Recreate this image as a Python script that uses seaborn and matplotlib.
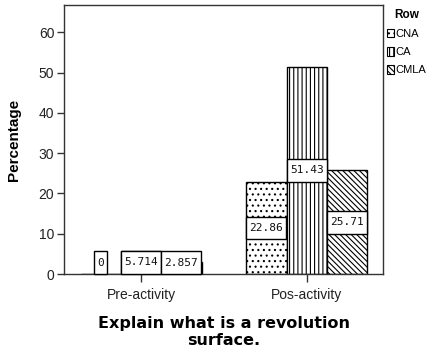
import numpy as np
import pandas as pd
import matplotlib
matplotlib.use("Agg")
import matplotlib.pyplot as plt
import matplotlib.patches as mpatches
from matplotlib.path import Path
import seaborn as sns

# Percentages of each answer type before and after the activity
phases = ["Pre-activity", "Pos-activity"]
rows = ["CNA", "CA", "CMLA"]
cna = [0, 22.86]
ca = [5.714, 51.43]
cmla = [2.857, 25.71]
y_ticks = [0, 10, 20, 30, 40, 50, 60]

df = pd.DataFrame({
    "phase": phases * 3,
    "row": np.repeat(rows, len(phases)),
    "pct": cna + ca + cmla,
})

sns.set_style("ticks")
plt.rcParams["font.family"] = ["Liberation Sans", "DejaVu Sans"]
plt.rcParams["text.color"] = "black"
plt.rcParams["hatch.linewidth"] = 0.8
plt.rcParams["hatch.color"] = "black"

hatches = ["...", "||||", "\\\\\\\\\\\\"]
frame_color = "#333333"

fig, ax = plt.subplots(figsize=(4.4, 3.58), dpi=100)
fig.subplots_adjust(left=64 / 440, right=383 / 440, top=1 - 5 / 358, bottom=1 - 274 / 358)

sns.barplot(data=df, x="phase", y="pct", hue="row", order=phases, hue_order=rows,
            palette={r: "white" for r in rows}, saturation=1, width=0.73, gap=0,
            edgecolor="black", linewidth=1, errorbar=None, legend=False, ax=ax)

for cont, h in zip(ax.containers, hatches):
    for bar in cont:
        bar.set_hatch(h)

ax.set_xlim(-0.465, 1.46)
ax.set_ylim(0, 66.8)
ax.set_yticks(y_ticks)


def label_box(x0, y0, width, height, mutation_size):
    """Tall, narrow rectangle around a value label."""
    padx = 0.28 * mutation_size
    total_h = 2.05 * mutation_size
    pady = (total_h - height) / 2
    x1, y1 = x0 - padx, y0 - pady
    x2, y2 = x0 + width + padx, y0 + height + pady
    return Path([(x1, y1), (x2, y1), (x2, y2), (x1, y2), (x1, y1)], closed=True)


label_fs = 8
box_px = 2.05 * label_fs * fig.dpi / 72
px_per_unit = ax.bbox.height / (ax.get_ylim()[1] - ax.get_ylim()[0])
half_box = box_px / 2 / px_per_unit

for cont, vals in zip(ax.containers, [cna, ca, cmla]):
    for bar, v in zip(cont, vals):
        ax.text(bar.get_x() + bar.get_width() / 2, max(v / 2, half_box), f"{v:.4g}",
                ha="center", va="center", fontsize=label_fs, family="DejaVu Sans Mono",
                color="#111111", zorder=5,
                bbox=dict(boxstyle=label_box, fc="white", ec="black", lw=1))

for s in ax.spines.values():
    s.set_visible(True)
    s.set_color(frame_color)
    s.set_linewidth(1)

ax.tick_params(axis="y", direction="out", length=5, width=1, color=frame_color,
               labelsize=10, labelcolor="#222222", pad=2)
ax.tick_params(axis="x", direction="out", length=6, width=1, color=frame_color,
               labelsize=10, labelcolor="#222222", pad=4)

ax.set_xlabel("Explain what is a revolution\nsurface.", fontsize=11.5, fontweight="bold",
              family="DejaVu Sans", labelpad=10, linespacing=1.15, color="black")
ax.set_ylabel("Percentage", fontsize=11, fontweight="bold", labelpad=13, color="black")

handles = [mpatches.Patch(facecolor="white", edgecolor="black", hatch=h, label=r, lw=0.8)
           for r, h in zip(rows, hatches)]
leg = ax.legend(handles=handles, title="Row", loc="upper left", bbox_to_anchor=(1.0, 1.0),
                frameon=False, fontsize=8, handlelength=0.6, handleheight=0.8,
                handletextpad=0.15, labelspacing=0.72, borderaxespad=0.15, borderpad=0.2)
leg.get_title().set_fontweight("bold")
leg.get_title().set_fontsize(8.5)

fig.savefig("out.png", dpi=100, facecolor="white")
